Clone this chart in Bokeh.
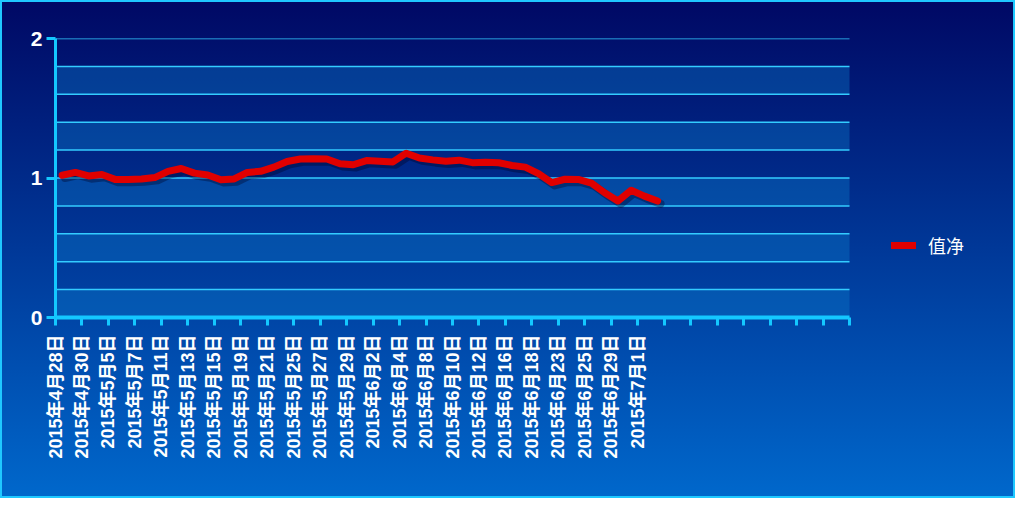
import numpy as np
from bokeh.plotting import figure
from bokeh.models import FixedTicker, Legend, LegendItem, Range1d
from bokeh.embed import file_html
from bokeh.resources import INLINE

# ---------------- data ----------------
dates = [
    "2015年4月28日", "2015年4月29日", "2015年4月30日",
    "2015年5月4日", "2015年5月5日", "2015年5月6日", "2015年5月7日", "2015年5月8日",
    "2015年5月11日", "2015年5月12日", "2015年5月13日", "2015年5月14日", "2015年5月15日",
    "2015年5月18日", "2015年5月19日", "2015年5月20日", "2015年5月21日", "2015年5月22日",
    "2015年5月25日", "2015年5月26日", "2015年5月27日", "2015年5月28日", "2015年5月29日",
    "2015年6月1日", "2015年6月2日", "2015年6月3日", "2015年6月4日", "2015年6月5日",
    "2015年6月8日", "2015年6月9日", "2015年6月10日", "2015年6月11日", "2015年6月12日",
    "2015年6月15日", "2015年6月16日", "2015年6月17日", "2015年6月18日", "2015年6月19日",
    "2015年6月23日", "2015年6月24日", "2015年6月25日", "2015年6月26日",
    "2015年6月29日", "2015年6月30日", "2015年7月1日", "2015年7月2日",
]
nav = [
    1.020, 1.040, 1.015, 1.025, 0.990, 0.990, 0.993, 1.003, 1.047, 1.068,
    1.035, 1.022, 0.988, 0.993, 1.040, 1.048, 1.078, 1.118, 1.136, 1.138,
    1.136, 1.102, 1.095, 1.125, 1.120, 1.115, 1.178, 1.143, 1.130, 1.120,
    1.128, 1.110, 1.113, 1.109, 1.090, 1.078, 1.032, 0.967, 0.991, 0.990,
    0.963, 0.894, 0.835, 0.912, 0.870, 0.835,
]
series_name = "值净"
y_ticks = [0, 1, 2]
y_max = 2
grid_step = 0.2
n_slots = 60          # category slots on the axis
label_every = 2       # a label / tick every 2 categories

# ---------------- layout (pixels) ----------------
W, H = 1015, 498
left, right, top, bottom = 55, 8, 38, 181
axis_px = 794                      # pixel length of the category axis
frame_px = W - left - right
x_end = n_slots * frame_px / axis_px   # frame extends to hold the legend

p = figure(width=W, height=H, output_backend="svg", toolbar_location=None,
           x_range=Range1d(0, x_end), y_range=Range1d(0, y_max),
           min_border_left=left, min_border_right=right,
           min_border_top=top, min_border_bottom=bottom)
p.background_fill_color = None
p.border_fill_color = None
p.outline_line_color = None
p.styles = {
    "background": "linear-gradient(180deg, #000864 0%, #0068cc 100%)",
    "box-shadow": "inset 0 0 0 2px #1fc8ff",
}

# alternating lighter bands
band_lo = np.arange(0, y_max, 2 * grid_step)
p.quad(left=0, right=n_slots, bottom=band_lo, top=band_lo + grid_step,
       fill_color="#0a78c8", fill_alpha=0.4, line_color=None, level="image")

# horizontal grid lines limited to the plotting area
p.xgrid.visible = False
p.ygrid.visible = False
gy = np.round(np.arange(grid_step, y_max + 1e-9, grid_step), 2)
p.segment(x0=0, x1=n_slots, y0=gy, y1=gy, line_color="#33ccff",
          line_width=1.5, level="underlay")

# series
x = np.arange(len(nav)) + 0.5
p.line(x + 0.22, np.array(nav) - 0.02, line_color="#000020", line_alpha=0.35,
       line_width=8, line_join="round", line_cap="round")
line_r = p.line(x, nav, line_color="#e00000", line_width=7,
                line_join="round", line_cap="round")

# x axis
xt = list(range(0, n_slots + 1, label_every))
xa = p.xaxis[0]
xa.bounds = (0, n_slots)
xa.ticker = FixedTicker(ticks=xt)
xa.major_label_overrides = {t: (dates[t] if t < len(dates) else "") for t in xt}
xa.major_label_orientation = np.pi / 2
xa.major_label_text_color = "white"
xa.major_label_text_font = "Liberation Sans, Noto Sans CJK SC"
xa.major_label_text_font_style = "bold"
xa.major_label_text_font_size = "18px"
xa.major_label_standoff = 9
xa.axis_line_color = "#14c8ff"
xa.axis_line_width = 4
xa.major_tick_line_color = "#14c8ff"
xa.major_tick_line_width = 3
xa.major_tick_in = 0
xa.major_tick_out = 8
xa.minor_tick_line_color = None

# y axis
ya = p.yaxis[0]
ya.ticker = FixedTicker(ticks=y_ticks)
ya.major_label_text_color = "white"
ya.major_label_text_font = "Liberation Sans"
ya.major_label_text_font_style = "bold"
ya.major_label_text_font_size = "21px"
ya.major_label_standoff = 4
ya.axis_line_color = "#14c8ff"
ya.axis_line_width = 3
ya.major_tick_line_color = "#14c8ff"
ya.major_tick_line_width = 3
ya.major_tick_in = 0
ya.major_tick_out = 9
ya.minor_tick_line_color = None

# legend, to the right of the plotting area
legend = Legend(items=[LegendItem(label=series_name, renderers=[line_r])],
                location=(836, 59), padding=0, margin=0, spacing=0,
                glyph_width=25, glyph_height=20, label_height=20,
                label_standoff=12, border_line_color=None,
                background_fill_alpha=0, label_text_color="white",
                label_text_font="Noto Sans CJK SC", label_text_font_size="18px")
p.add_layout(legend)

with open("out.html", "w", encoding="utf-8") as f:
    f.write(file_html(p, INLINE))
